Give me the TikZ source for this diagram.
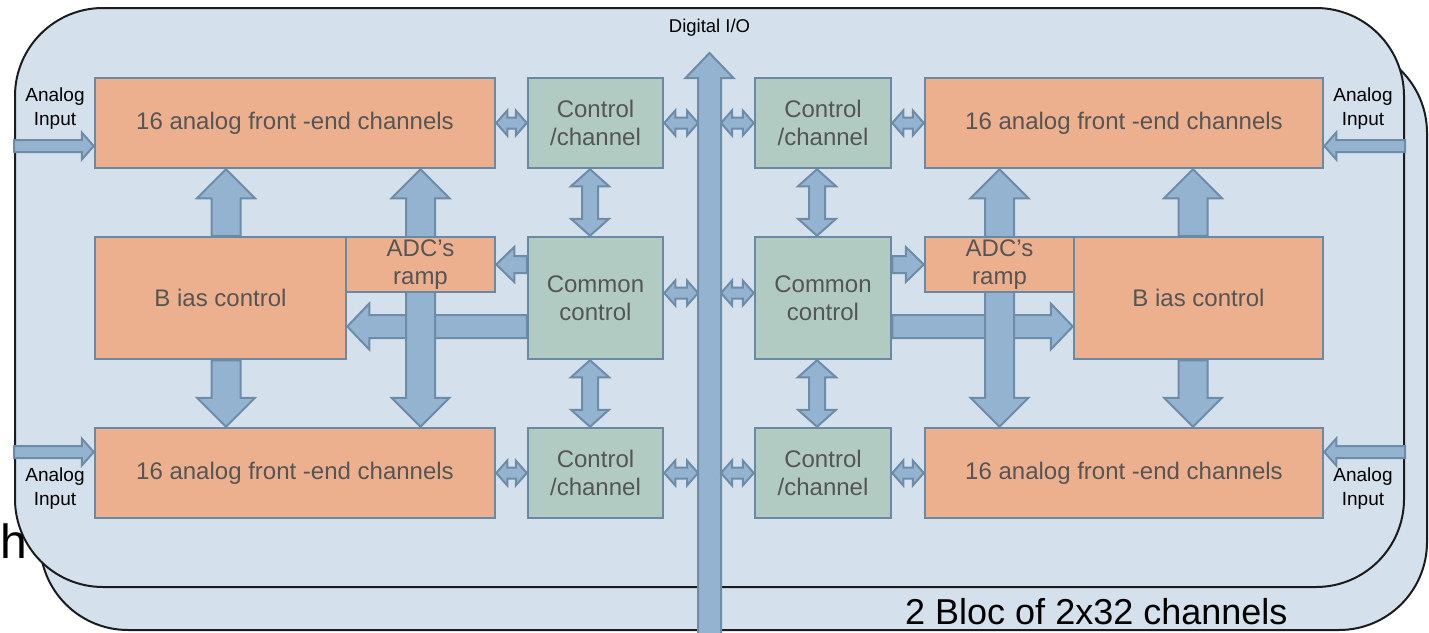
\documentclass[tikz,border=0pt]{standalone}
\usepackage{fontspec}
\setmainfont{Liberation Sans}
\usetikzlibrary{calc}
\pgfdeclarelayer{bg}
\pgfdeclarelayer{arr}
\pgfsetlayers{bg,arr,main}
\definecolor{panelfill}{HTML}{D4E1EC}
\definecolor{panelline}{HTML}{1C1C1C}
\definecolor{orangefill}{HTML}{EDB08E}
\definecolor{greenfill}{HTML}{B1CBC3}
\definecolor{boxline}{HTML}{6A8AA3}
\definecolor{arrfill}{HTML}{93B3D1}
\definecolor{arrline}{HTML}{6C8CA7}
\definecolor{boxtext}{HTML}{555555}
\tikzset{
  panel/.style={draw=panelline, fill=panelfill, line width=2pt, rounded corners=88pt},
  box/.style={rectangle, draw=boxline, line width=2.5pt, inner sep=0pt, text=boxtext,
    font=\fontsize{24}{28}\selectfont, align=center},
  afe/.style={box, fill=orangefill},
  ctl/.style={box, fill=greenfill},
  blockarr/.style={draw=arrline, fill=arrfill, line width=2pt, line join=miter},
  lbl/.style={inner sep=0pt, text=black, font=\fontsize{19}{24}\selectfont, align=center}
}
% single block arrow: from, to, shaft half width, head half width, head length
\newcommand\blkarrow[5]{%
  \path (#1) coordinate (bA) (#2) coordinate (bB);
  \path ($(bB)!#5!(bA)$) coordinate (bH);
  \draw[blockarr] ($(bA)!#3!90:(bB)$) -- ($(bH)!#3!90:(bB)$) -- ($(bH)!#4!90:(bB)$)
    -- (bB) -- ($(bH)!#4!-90:(bB)$) -- ($(bH)!#3!-90:(bB)$) -- ($(bA)!#3!-90:(bB)$) -- cycle;
}
% double block arrow
\newcommand\dblarrow[5]{%
  \path (#1) coordinate (bA) (#2) coordinate (bB);
  \path ($(bA)!#5!(bB)$) coordinate (bHa) ($(bB)!#5!(bA)$) coordinate (bHb);
  \draw[blockarr] (bA) -- ($(bHa)!#4!90:(bB)$) -- ($(bHa)!#3!90:(bB)$) -- ($(bHb)!#3!90:(bB)$)
    -- ($(bHb)!#4!90:(bB)$) -- (bB) -- ($(bHb)!#4!-90:(bB)$) -- ($(bHb)!#3!-90:(bB)$)
    -- ($(bHa)!#3!-90:(bB)$) -- ($(bHa)!#4!-90:(bB)$) -- cycle;
}
\begin{document}
\begin{tikzpicture}[x=1pt, y=-1pt]
\useasboundingbox (0,0) rectangle (1429,632);

\begin{pgfonlayer}{bg}
  \draw[panel] (40,45) rectangle (1427,630);
  \node[panel, minimum width=1389pt, minimum height=579pt, inner sep=0pt] (front) at (709.5,297.5) {};
\end{pgfonlayer}

% boxes, left half
\node[afe, minimum width=400pt, minimum height=90pt] (afeTL) at (295,123) {16 analog front -end channels};
\node[afe, minimum width=400pt, minimum height=90pt] (afeBL) at (295,473) {16 analog front -end channels};
\node[afe, minimum width=251pt, minimum height=122pt] (biasL) at (220.5,298) {B ias control};
\node[afe, minimum width=149pt, minimum height=55pt] (adcL) at (420.5,264.5) {ADC’s\\ramp};
\node[ctl, minimum width=135pt, minimum height=90pt] (ctlTL) at (595.5,123) {Control\\/channel};
\node[ctl, minimum width=135pt, minimum height=122pt] (comL) at (595.5,298) {Common\\control};
\node[ctl, minimum width=135pt, minimum height=90pt] (ctlBL) at (595.5,473) {Control\\/channel};
% boxes, right half
\node[ctl, minimum width=136pt, minimum height=90pt] (ctlTR) at (823,123) {Control\\/channel};
\node[ctl, minimum width=136pt, minimum height=122pt] (comR) at (823,298) {Common\\control};
\node[ctl, minimum width=136pt, minimum height=90pt] (ctlBR) at (823,473) {Control\\/channel};
\node[afe, minimum width=398pt, minimum height=90pt] (afeTR) at (1124,123) {16 analog front -end channels};
\node[afe, minimum width=398pt, minimum height=90pt] (afeBR) at (1124,473) {16 analog front -end channels};
\node[afe, minimum width=149pt, minimum height=55pt] (adcR) at (999.5,264.5) {ADC’s\\ramp};
\node[afe, minimum width=249pt, minimum height=122pt] (biasR) at (1198.5,298) {B ias control};

% labels
\node[lbl] (aiTL) at (55,109) {Analog\\Input};
\node[lbl] (aiBL) at (55,489) {Analog\\Input};
\node[lbl] (aiTR) at (1363,109) {Analog\\Input};
\node[lbl] (aiBR) at (1363,489) {Analog\\Input};
\node[lbl, font=\fontsize{18.5}{22}\selectfont] (dio) at (709.5,28) {Digital I/O};
\node[inner sep=0pt, anchor=base west, font=\fontsize{36}{40}\selectfont] (bloc) at (905,624) {2 Bloc of 2x32 channels};
\node[inner sep=0pt, anchor=base west, font=\fontsize{48}{52}\selectfont] (hfrag) at (0,558) {h};

% helper coordinates
\coordinate (ioB) at (709.5,640);
\coordinate (ioT) at (709.5,53);
\coordinate (ioW) at (698,0);
\coordinate (ioE) at (721,0);
\coordinate (rowC) at (0,293);
\coordinate (rowH) at (0,326.5);
\coordinate (colL) at (226,0);
\coordinate (colR) at (1193,0);
\coordinate (cvL) at (590,0);
\coordinate (cvR) at (817,0);
\coordinate (inTL) at ([yshift=-23pt]afeTL.west);
\coordinate (inBL) at ([yshift=21pt]afeBL.west);
\coordinate (inTR) at ([yshift=-23pt]afeTR.east);
\coordinate (inBR) at ([yshift=21pt]afeBR.east);

\begin{pgfonlayer}{arr}
  % digital I/O bus
  \blkarrow{ioB}{ioT}{11.5pt}{24pt}{25pt}
  % analog inputs
  \blkarrow{front.west |- inTL}{inTL}{6pt}{13.5pt}{12pt}
  \blkarrow{front.west |- inBL}{inBL}{6pt}{13.5pt}{12pt}
  \blkarrow{front.east |- inTR}{inTR}{6pt}{13.5pt}{12pt}
  \blkarrow{front.east |- inBR}{inBR}{6pt}{13.5pt}{12pt}
  % small horizontal links, top row
  \dblarrow{afeTL.east}{ctlTL.west}{5.5pt}{12.5pt}{11pt}
  \dblarrow{ctlTL.east}{ctlTL.east -| ioW}{5.5pt}{12.5pt}{11pt}
  \dblarrow{ctlTR.west -| ioE}{ctlTR.west}{5.5pt}{12.5pt}{11pt}
  \dblarrow{ctlTR.east}{afeTR.west}{5.5pt}{12.5pt}{11pt}
  % bottom row
  \dblarrow{afeBL.east}{ctlBL.west}{5.5pt}{12.5pt}{11pt}
  \dblarrow{ctlBL.east}{ctlBL.east -| ioW}{5.5pt}{12.5pt}{11pt}
  \dblarrow{ctlBR.west -| ioE}{ctlBR.west}{5.5pt}{12.5pt}{11pt}
  \dblarrow{ctlBR.east}{afeBR.west}{5.5pt}{12.5pt}{11pt}
  % common control to bus
  \dblarrow{comL.east |- rowC}{ioW |- rowC}{5.5pt}{12.5pt}{11pt}
  \dblarrow{ioE |- rowC}{comR.west |- rowC}{5.5pt}{12.5pt}{11pt}
  % control/channel <-> common control
  \dblarrow{ctlTL.south -| cvL}{comL.north -| cvL}{8pt}{19pt}{17pt}
  \dblarrow{comL.south -| cvL}{ctlBL.north -| cvL}{8pt}{19pt}{17pt}
  \dblarrow{ctlTR.south -| cvR}{comR.north -| cvR}{8pt}{19pt}{17pt}
  \dblarrow{comR.south -| cvR}{ctlBR.north -| cvR}{8pt}{19pt}{17pt}
  % common control -> ADC ramp
  \blkarrow{comL.west |- adcL.east}{adcL.east}{8.5pt}{17.5pt}{18pt}
  \blkarrow{comR.east |- adcR.west}{adcR.west}{8.5pt}{17.5pt}{18pt}
  % common control -> bias control
  \blkarrow{comL.west |- rowH}{biasL.east |- rowH}{11.5pt}{23pt}{22pt}
  \blkarrow{comR.east |- rowH}{biasR.west |- rowH}{11.5pt}{23pt}{22pt}
  % bias control -> front-ends
  \blkarrow{biasL.north -| colL}{afeTL.south -| colL}{14.5pt}{29pt}{29pt}
  \blkarrow{biasL.south -| colL}{afeBL.north -| colL}{14.5pt}{29pt}{29pt}
  \blkarrow{biasR.north -| colR}{afeTR.south -| colR}{14.5pt}{29pt}{29pt}
  \blkarrow{biasR.south -| colR}{afeBR.north -| colR}{14.5pt}{29pt}{29pt}
  % ADC ramp -> front-ends
  \dblarrow{afeTL.south -| adcL}{afeBL.north -| adcL}{14.5pt}{29pt}{29pt}
  \dblarrow{afeTR.south -| adcR}{afeBR.north -| adcR}{14.5pt}{29pt}{29pt}
\end{pgfonlayer}
\end{tikzpicture}
\end{document}
